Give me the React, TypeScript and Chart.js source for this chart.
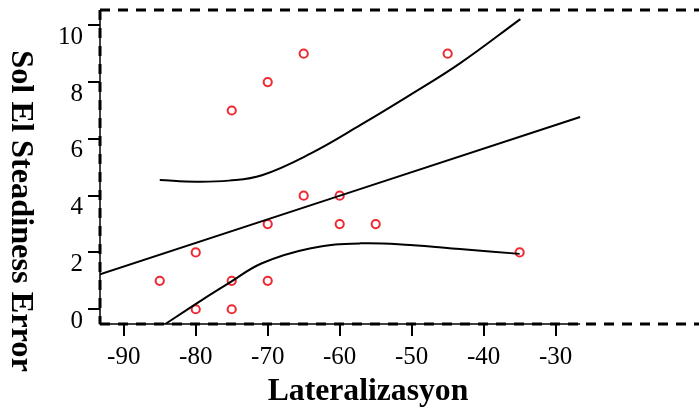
import React, { useEffect, useRef } from 'react';
import { Chart, registerables } from 'chart.js';

Chart.register(...registerables);

// Observed points
const pointX = [-85, -80, -80, -75, -75, -75, -70, -70, -70, -65, -65, -60, -60, -55, -45, -35];
const pointY = [1, 0, 2, 0, 1, 7, 1, 3, 8, 4, 9, 3, 4, 3, 9, 2];

// Fitted regression line
const fitX = [-93.3, -26.6];
const fitY = [1.23, 6.77];

// Upper confidence band
const upperX = [-85, -80, -75.4, -70.8, -64, -57.1, -50.2, -43.3, -34.9];
const upperY = [4.55, 4.49, 4.53, 4.72, 5.49, 6.49, 7.55, 8.66, 10.22];

// Lower confidence band
const lowerX = [-85, -79, -75.4, -70.8, -64, -57.1, -50.2, -43.3, -35];
const lowerY = [-0.65, 0.35, 0.92, 1.62, 2.15, 2.32, 2.26, 2.12, 1.95];

// Axes
const xTicks = [-90, -80, -70, -60, -50, -40, -30];
const yTicks = [0, 2, 4, 6, 8, 10];
const xRange = [-93.3, -10.93];
const yRange = [-0.52, 10.54];
const xAxisEnd = -26.6;
const xTitle = 'Lateralizasyon';
const yTitle = 'Sol El Steadiness Error';

const toXY = (xs: number[], ys: number[]) => xs.map((x, i) => ({ x, y: ys[i] }));

const framePlugin = {
  id: 'frame',
  afterDraw(chart: any) {
    const { ctx, chartArea: a, scales } = chart;
    const W = chart.width;
    ctx.save();
    ctx.strokeStyle = '#000';
    ctx.lineWidth = 1.5;
    ctx.setLineDash([]);
    ctx.beginPath();
    ctx.moveTo(a.left, a.top);
    ctx.lineTo(a.left, a.bottom);
    ctx.lineTo(scales.x.getPixelForValue(xAxisEnd), a.bottom);
    ctx.stroke();

    ctx.lineWidth = 3;
    ctx.setLineDash([10, 8]);
    ctx.beginPath();
    ctx.moveTo(a.left, a.top);
    ctx.lineTo(W, a.top);
    ctx.stroke();
    ctx.beginPath();
    ctx.moveTo(a.left, a.top);
    ctx.lineTo(a.left, a.bottom);
    ctx.stroke();
    ctx.beginPath();
    ctx.moveTo(a.left, a.bottom);
    ctx.lineTo(W, a.bottom);
    ctx.stroke();
    ctx.setLineDash([]);

    ctx.fillStyle = '#000';
    ctx.textAlign = 'center';
    ctx.textBaseline = 'alphabetic';
    ctx.font = 'bold 31.7px "Liberation Serif", "Times New Roman", serif';
    ctx.fillText(xTitle, a.left + 268, a.bottom + 76);

    ctx.font = 'bold 32.3px "Liberation Serif", "Times New Roman", serif';
    ctx.translate(12, a.top + 201);
    ctx.rotate(Math.PI / 2);
    ctx.fillText(yTitle, 0, 0);
    ctx.restore();
  },
};

const tickFont = { family: '"Liberation Serif", "Times New Roman", serif', size: 25 };

export default function App() {
  const ref = useRef<HTMLCanvasElement | null>(null);

  useEffect(() => {
    if (!ref.current) return;
    const lineDs = (xs: number[], ys: number[]) => ({
      type: 'line' as const,
      data: toXY(xs, ys),
      borderColor: '#000',
      borderWidth: 2,
      pointRadius: 0,
      fill: false,
      showLine: true,
      tension: 0.4,
    });
    const chart = new Chart(ref.current, {
      type: 'scatter',
      data: {
        datasets: [
          lineDs(fitX, fitY),
          lineDs(upperX, upperY),
          lineDs(lowerX, lowerY),
          {
            type: 'scatter',
            data: toXY(pointX, pointY),
            pointRadius: 4.1,
            pointBorderWidth: 2,
            borderColor: 'rgb(240,40,50)',
            backgroundColor: 'rgba(0,0,0,0)',
            pointBackgroundColor: 'rgba(0,0,0,0)',
            pointBorderColor: 'rgb(240,40,50)',
          } as any,
        ],
      },
      options: {
        animation: false,
        responsive: false,
        maintainAspectRatio: false,
        layout: { padding: { top: 10, left: 0, right: 0, bottom: 0 } },
        plugins: { legend: { display: false }, tooltip: { enabled: false } },
        scales: {
          x: {
            type: 'linear',
            min: xRange[0],
            max: xRange[1],
            afterBuildTicks: (s: any) => {
              s.ticks = xTicks.map((v) => ({ value: v }));
            },
            afterFit: (s: any) => {
              s.height = 83;
              s.paddingLeft = 0;
              s.paddingRight = 0;
              s.paddingTop = 0;
              s.paddingBottom = 0;
            },
            grid: { drawOnChartArea: false, drawTicks: true, tickLength: 12, lineWidth: 2, color: '#000' },
            border: { display: false },
            ticks: { font: tickFont, color: '#000', padding: 6, maxRotation: 0, autoSkip: false },
          },
          y: {
            type: 'linear',
            min: yRange[0],
            max: yRange[1],
            afterBuildTicks: (s: any) => {
              s.ticks = yTicks.map((v) => ({ value: v }));
            },
            afterFit: (s: any) => {
              s.width = 100;
              s.paddingLeft = 0;
              s.paddingRight = 0;
              s.paddingTop = 0;
              s.paddingBottom = 0;
            },
            grid: { drawOnChartArea: false, drawTicks: true, tickLength: 12, lineWidth: 2, color: '#000' },
            border: { display: false },
            ticks: { font: tickFont, color: '#000', padding: 5, labelOffset: 12, autoSkip: false },
          },
        },
      },
      plugins: [framePlugin],
    } as any);
    return () => chart.destroy();
  }, []);

  return (
    <div style={{ position: 'absolute', left: 0, top: 0, width: 699, height: 407, background: '#fff' }}>
      <canvas ref={ref} width={699} height={407} style={{ display: 'block', width: 699, height: 407 }} />
    </div>
  );
}
